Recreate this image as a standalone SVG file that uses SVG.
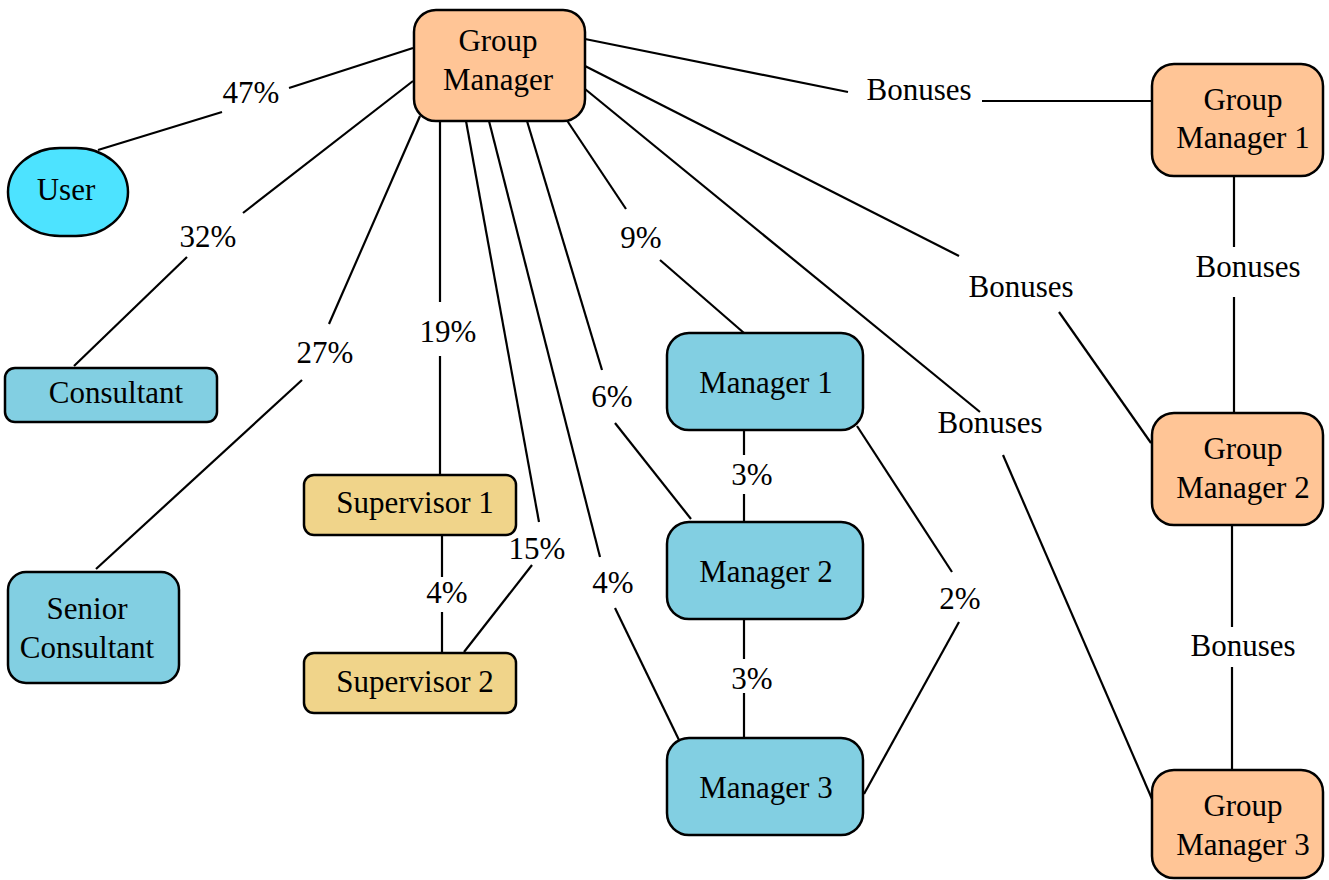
<svg xmlns="http://www.w3.org/2000/svg" width="1329" height="880" viewBox="0 0 1329 880" font-family="'Liberation Serif', 'Times New Roman', 'DejaVu Serif', serif">
<style>
.n{stroke:#000;stroke-width:2.5}
.gm{fill:#FFC596}
.bl{fill:#82CFE2}
.us{fill:#4DE3FF}
.sv{fill:#F0D48A}
text{font-family:'Liberation Serif','Times New Roman','DejaVu Serif',serif;font-size:31px;fill:#000;text-anchor:middle}
.e line{stroke:#000;stroke-width:2.2;fill:none}
</style>
<rect width="1329" height="880" fill="#fff"/>
<g id="connectors" class="e">
<line x1="413" y1="48" x2="289" y2="88"/><line x1="222" y1="112" x2="98" y2="150"/>
<line x1="413" y1="81" x2="243" y2="213"/><line x1="187" y1="257" x2="74" y2="366"/>
<line x1="420" y1="116" x2="329" y2="324"/><line x1="302" y1="380" x2="96" y2="569"/>
<line x1="440" y1="121" x2="440" y2="302"/><line x1="440" y1="356" x2="440" y2="475"/>
<line x1="466" y1="121" x2="539" y2="522"/><line x1="532" y1="565" x2="464" y2="652"/>
<line x1="489" y1="121" x2="600" y2="557"/><line x1="615" y1="608" x2="679" y2="740"/>
<line x1="527" y1="121" x2="602" y2="370"/><line x1="615" y1="423" x2="691" y2="519"/>
<line x1="566" y1="119" x2="626" y2="209"/><line x1="660" y1="260" x2="744" y2="333"/>
<line x1="585" y1="39" x2="848" y2="92"/><line x1="982" y1="101" x2="1152" y2="101"/>
<line x1="585" y1="66" x2="959" y2="256"/><line x1="1059" y1="312" x2="1151" y2="443"/>
<line x1="585" y1="89" x2="980" y2="412"/><line x1="1003" y1="455" x2="1152" y2="799"/>
<line x1="1234" y1="176" x2="1234" y2="247"/><line x1="1234" y1="297" x2="1234" y2="413"/>
<line x1="1232" y1="525" x2="1232" y2="627"/><line x1="1232" y1="667" x2="1232" y2="770"/>
<line x1="442" y1="536" x2="442" y2="577"/><line x1="442" y1="612" x2="442" y2="653"/>
<line x1="744" y1="430" x2="744" y2="455"/><line x1="744" y1="494" x2="744" y2="522"/>
<line x1="744" y1="619" x2="744" y2="659"/><line x1="744" y1="693" x2="744" y2="738"/>
<line x1="857" y1="426" x2="952" y2="572"/><line x1="959" y1="622" x2="864" y2="794"/>
<text x="251" y="103">47%</text>
<text x="208" y="247">32%</text>
<text x="325" y="363">27%</text>
<text x="448" y="342">19%</text>
<text x="537" y="559">15%</text>
<text x="447" y="603">4%</text>
<text x="613" y="593">4%</text>
<text x="612" y="407">6%</text>
<text x="641" y="248">9%</text>
<text x="752" y="485">3%</text>
<text x="752" y="689">3%</text>
<text x="960" y="609">2%</text>
<text x="919" y="100">Bonuses</text>
<text x="1021" y="297">Bonuses</text>
<text x="990" y="433">Bonuses</text>
<text x="1248" y="277">Bonuses</text>
<text x="1243" y="656">Bonuses</text>
</g>
<g id="group-manager"><rect class="n gm" x="414" y="10" width="171" height="111" rx="22"/><text x="498" y="51">Group</text><text x="498" y="90">Manager</text></g>
<g id="user"><rect class="n us" x="8" y="148" width="120" height="88" rx="52" ry="44"/><text x="66" y="200">User</text></g>
<g id="consultant"><rect class="n bl" x="5" y="368" width="212" height="54" rx="10"/><text x="116" y="403">Consultant</text></g>
<g id="senior-consultant"><rect class="n bl" x="8" y="572" width="171" height="111" rx="18"/><text x="87" y="619">Senior</text><text x="87" y="658">Consultant</text></g>
<g id="supervisor-1"><rect class="n sv" x="304" y="475" width="212" height="60" rx="10"/><text x="415" y="513">Supervisor 1</text></g>
<g id="supervisor-2"><rect class="n sv" x="304" y="653" width="212" height="60" rx="10"/><text x="415" y="692">Supervisor 2</text></g>
<g id="manager-1"><rect class="n bl" x="667" y="333" width="196" height="97" rx="22"/><text x="766" y="393">Manager 1</text></g>
<g id="manager-2"><rect class="n bl" x="667" y="522" width="196" height="97" rx="22"/><text x="766" y="582">Manager 2</text></g>
<g id="manager-3"><rect class="n bl" x="667" y="738" width="196" height="97" rx="22"/><text x="766" y="798">Manager 3</text></g>
<g id="group-manager-1"><rect class="n gm" x="1152" y="64" width="171" height="112" rx="22"/><text x="1243" y="110">Group</text><text x="1243" y="148">Manager 1</text></g>
<g id="group-manager-2"><rect class="n gm" x="1152" y="413" width="171" height="112" rx="22"/><text x="1243" y="459">Group</text><text x="1243" y="498">Manager 2</text></g>
<g id="group-manager-3"><rect class="n gm" x="1152" y="770" width="171" height="108" rx="22"/><text x="1243" y="816">Group</text><text x="1243" y="855">Manager 3</text></g>
</svg>
